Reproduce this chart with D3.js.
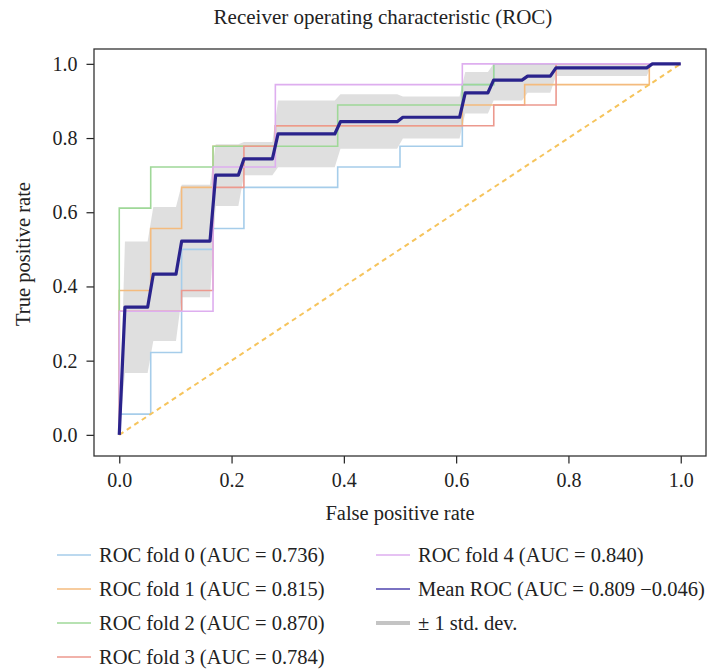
<!DOCTYPE html>
<html>
<head>
<meta charset="utf-8">
<script src="https://cdn.jsdelivr.net/npm/d3@7"></script>
<style>
    body { margin: 0; background: #fff; }
    text { font-family: "Liberation Serif", "Times New Roman", serif; fill: #222; }
</style>
</head>
<body>
<div id="wrapper"></div>
<script>
// fold curves: corner points (step after)
const fold0Fpr = [0, 0, 0.056, 0.111, 0.167, 0.222, 0.389, 0.5, 0.611, 0.667, 1];
const fold0Tpr = [0, 0.056, 0.222, 0.5, 0.556, 0.667, 0.722, 0.778, 0.944, 1, 1];
const fold1Fpr = [0, 0, 0.056, 0.111, 0.167, 0.278, 0.611, 0.722, 0.944, 1];
const fold1Tpr = [0, 0.389, 0.556, 0.667, 0.778, 0.833, 0.889, 0.944, 1, 1];
const fold2Fpr = [0, 0, 0.056, 0.167, 0.389, 0.611, 0.667, 1];
const fold2Tpr = [0, 0.611, 0.722, 0.778, 0.889, 0.944, 1, 1];
const fold3Fpr = [0, 0, 0.111, 0.167, 0.222, 0.278, 0.667, 0.778, 1];
const fold3Tpr = [0, 0.333, 0.389, 0.667, 0.778, 0.833, 0.889, 1, 1];
const fold4Fpr = [0, 0, 0.167, 0.278, 0.611, 1];
const fold4Tpr = [0, 0.333, 0.722, 0.944, 1, 1];

// mean ROC and +-1 std band
const meanFpr = [0, 0.0101, 0.0505, 0.0606, 0.101, 0.1111, 0.1616, 0.1717, 0.2121, 0.2222, 0.2727, 0.2828,
    0.3838, 0.3939, 0.4949, 0.5051, 0.6061, 0.6162, 0.6566, 0.6667, 0.7172, 0.7273, 0.7677, 0.7778, 0.9394, 0.9495, 1];
const meanTpr = [0, 0.344, 0.344, 0.433, 0.433, 0.522, 0.522, 0.700, 0.700, 0.744, 0.744, 0.811,
    0.811, 0.844, 0.844, 0.856, 0.856, 0.922, 0.922, 0.956, 0.956, 0.967, 0.967, 0.989, 0.989, 1, 1];
const lowerTpr = [0, 0.167, 0.167, 0.253, 0.253, 0.371, 0.371, 0.617, 0.617, 0.700, 0.700, 0.721,
    0.721, 0.771, 0.771, 0.799, 0.799, 0.866, 0.866, 0.901, 0.901, 0.922, 0.922, 0.967, 0.967, 1, 1];
const upperTpr = [0, 0.521, 0.521, 0.614, 0.614, 0.674, 0.674, 0.783, 0.783, 0.789, 0.789, 0.901,
    0.901, 0.918, 0.918, 0.912, 0.912, 0.978, 0.978, 1, 1, 1, 1, 1, 1, 1, 1];

const foldLabels = ["ROC fold 0 (AUC = 0.736)", "ROC fold 1 (AUC = 0.815)", "ROC fold 2 (AUC = 0.870)",
    "ROC fold 3 (AUC = 0.784)", "ROC fold 4 (AUC = 0.840)"];
const meanLabel = "Mean ROC (AUC = 0.809 \u22120.046)";
const stdLabel = "\u00b1 1 std. dev.";
const tickValues = [0, 0.2, 0.4, 0.6, 0.8, 1.0];

const foldColors = ["#a6cdea", "#f4bb7e", "#9fd898", "#ec998e", "#deaeef"];

let dimension = {
    width: 709,
    height: 671,
    margin: { top: 49, left: 94, bottom: 215, right: 3 }
}
dimension.boundedWidth = dimension.width - dimension.margin.left - dimension.margin.right;
dimension.boundedHeight = dimension.height - dimension.margin.top - dimension.margin.bottom;

function buildPlot() {
    const svg = d3.select("#wrapper").append("svg")
        .attr("width", dimension.width)
        .attr("height", dimension.height);

    const bounds = svg.append("g")
        .attr("transform", `translate(${dimension.margin.left},${dimension.margin.top})`);

    const xScale = d3.scaleLinear()
        .domain([-0.045, 1.045])
        .range([0, dimension.boundedWidth]);
    const yScale = d3.scaleLinear()
        .domain([-0.057, 1.04])
        .range([dimension.boundedHeight, 0]);

    // std band
    const band = meanFpr.map((x, i) => ({ x: x, lo: lowerTpr[i], hi: upperTpr[i] }));
    bounds.append("path")
        .datum(band)
        .attr("fill", "#d9d9d9")
        .attr("fill-opacity", 0.85)
        .attr("d", d3.area().x(d => xScale(d.x)).y0(d => yScale(d.lo)).y1(d => yScale(d.hi)));

    // folds
    const folds = [
        [fold0Fpr, fold0Tpr], [fold1Fpr, fold1Tpr], [fold2Fpr, fold2Tpr],
        [fold3Fpr, fold3Tpr], [fold4Fpr, fold4Tpr]
    ];
    const stepLine = d3.line()
        .x(d => xScale(d[0]))
        .y(d => yScale(d[1]))
        .curve(d3.curveStepAfter);
    folds.forEach((f, i) => {
        const pts = f[0].map((x, j) => [x, f[1][j]]);
        bounds.append("path")
            .datum(pts)
            .attr("fill", "none")
            .attr("stroke", foldColors[i])
            .attr("stroke-width", 1.6)
            .attr("d", stepLine);
    });

    // chance line
    bounds.append("path")
        .datum([[0, 0], [1, 1]])
        .attr("fill", "none")
        .attr("stroke", "#f6c45c")
        .attr("stroke-width", 2)
        .attr("stroke-dasharray", "5,4")
        .attr("d", d3.line().x(d => xScale(d[0])).y(d => yScale(d[1])));

    // mean
    const meanPts = meanFpr.map((x, i) => [x, meanTpr[i]]);
    bounds.append("path")
        .datum(meanPts)
        .attr("fill", "none")
        .attr("stroke", "#2a238c")
        .attr("stroke-width", 3.2)
        .attr("stroke-linejoin", "round")
        .attr("d", d3.line().x(d => xScale(d[0])).y(d => yScale(d[1])));

    // axes
    const xAxis = bounds.append("g")
        .attr("transform", `translate(0,${dimension.boundedHeight})`)
        .call(d3.axisBottom(xScale).tickValues(tickValues).tickFormat(d3.format(".1f"))
            .tickSize(7.5).tickPadding(9));
    const yAxis = bounds.append("g")
        .call(d3.axisLeft(yScale).tickValues(tickValues).tickFormat(d3.format(".1f"))
            .tickSize(7.5).tickPadding(9));
    [xAxis, yAxis].forEach(a => {
        a.select(".domain").remove();
        a.selectAll("line").attr("stroke", "#222").attr("stroke-width", 1.2);
        a.selectAll("text").style("font-size", "20px").attr("fill", "#222");
    });

    bounds.append("rect")
        .attr("width", dimension.boundedWidth)
        .attr("height", dimension.boundedHeight)
        .attr("fill", "none")
        .attr("stroke", "#333")
        .attr("stroke-width", 1.3);

    // labels
    svg.append("text")
        .attr("x", 383).attr("y", 24)
        .attr("text-anchor", "middle")
        .style("font-size", "21px")
        .text("Receiver operating characteristic (ROC)");
    svg.append("text")
        .attr("x", 400).attr("y", 520)
        .attr("text-anchor", "middle")
        .style("font-size", "20.5px")
        .text("False positive rate");
    svg.append("text")
        .attr("transform", "translate(30,254) rotate(-90)")
        .attr("text-anchor", "middle")
        .style("font-size", "20.5px")
        .text("True positive rate");

    // legend
    const entries = foldLabels.map((t, i) => ({ text: t, color: foldColors[i], w: 1.6, col: i < 4 ? 0 : 1, row: i < 4 ? i : 0 }));
    entries.push({ text: meanLabel, color: "#7a72c2", w: 2, col: 1, row: 1 });
    entries.push({ text: stdLabel, color: "#c4c4c4", w: 4, col: 1, row: 2 });
    const colX = [57, 376];
    const legend = svg.append("g");
    entries.forEach(e => {
        const y = 555 + e.row * 34;
        legend.append("line")
            .attr("x1", colX[e.col]).attr("x2", colX[e.col] + 34)
            .attr("y1", y).attr("y2", y)
            .attr("stroke", e.color)
            .attr("stroke-width", e.w);
        legend.append("text")
            .attr("x", colX[e.col] + 42).attr("y", y + 7)
            .style("font-size", "20.5px")
            .text(e.text);
    });
}

buildPlot()
</script>
</body>
</html>
